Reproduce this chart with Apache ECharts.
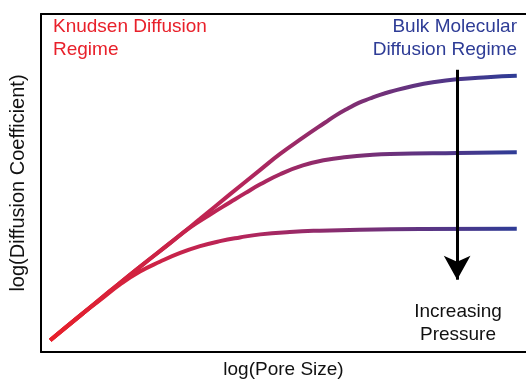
<!DOCTYPE html>
<html>
<head>
<meta charset="utf-8">
<script src="https://cdn.jsdelivr.net/npm/echarts@6/dist/echarts.min.js"></script>
<style>html,body{margin:0;padding:0;background:#fff}#c{width:526px;height:384px}</style>
</head>
<body>
<div id="c"></div>
<script>
// log(Pore Size) vs log(Diffusion Coefficient), arbitrary units 0-100
const lowPressure = [[1.9,3.5],[8.0,10.7],[14.2,18.0],[20.4,25.2],[26.6,32.2],[32.8,39.4],[39.0,46.7],[45.2,53.9],[49.3,58.6],[54.0,63.4],[58.6,67.9],[60.8,70.0],[63.1,71.9],[65.5,73.7],[67.8,75.0],[69.9,76.1],[72.0,77.0],[76.7,78.7],[81.2,79.9],[85.8,80.7],[92.0,81.3],[98.1,81.7]];
const midPressure = [[1.9,3.5],[8.0,10.7],[14.2,18.0],[20.4,25.2],[26.6,32.2],[30.7,36.8],[34.8,40.6],[39.0,44.3],[42.1,47.0],[45.2,49.6],[49.3,52.6],[54.0,55.2],[58.6,56.8],[63.1,57.7],[67.8,58.3],[72.0,58.6],[85.8,58.9],[98.1,59.1]];
const highPressure = [[1.9,3.5],[8.0,10.7],[12.2,15.4],[16.3,20.0],[20.4,23.8],[24.5,26.7],[28.7,29.3],[32.8,31.3],[36.9,32.8],[41.0,33.9],[45.2,34.8],[51.3,35.5],[57.5,35.9],[65.8,36.2],[78.1,36.4],[98.1,36.5]];
const arrowLine = [[85.8,83.5],[85.8,21.4]];

const FONT = '"Liberation Sans", Arial, Helvetica, sans-serif';
const chart = echarts.init(document.getElementById('c'));
const grad = new echarts.graphic.LinearGradient(50, 0, 517, 0, [
  {offset: 0, color: '#e8202a'},
  {offset: 0.4, color: '#b7255a'},
  {offset: 0.7, color: '#743078'},
  {offset: 1, color: '#2e3c96'}
], true);
function curve(d){
  return {type:'line', data:d, smooth:0.5, showSymbol:false, symbol:'none',
    lineStyle:{width:4, color:grad}, silent:true, z:2};
}
const s3 = curve(highPressure);
s3.markLine = {silent:true, symbol:['none','arrow'], symbolSize:[20,24],
  lineStyle:{color:'#000', width:3, type:'solid'}, label:{show:false},
  data:[[{coord:arrowLine[0]},{coord:arrowLine[1]}]], z:5};
chart.setOption({
  animation:false,
  grid:{left:41, right:0, top:14, bottom:25},
  xAxis:[{type:'value', min:0, max:100, position:'bottom',
    name:'log(Pore Size)', nameLocation:'middle', nameGap:8,
    nameTextStyle:{fontFamily:FONT, fontSize:19, color:'#111', verticalAlign:'top'},
    axisLine:{show:true, lineStyle:{color:'#000', width:2}},
    axisTick:{show:false}, axisLabel:{show:false}, splitLine:{show:false}},
    {type:'value', min:0, max:100, position:'top',
    axisLine:{show:true, lineStyle:{color:'#000', width:2}},
    axisTick:{show:false}, axisLabel:{show:false}, splitLine:{show:false}}],
  yAxis:{type:'value', min:0, max:100,
    name:'log(Diffusion Coefficient)', nameLocation:'middle', nameGap:13,
    nameTextStyle:{fontFamily:FONT, fontSize:20, color:'#111'},
    axisLine:{show:true, lineStyle:{color:'#000', width:2}},
    axisTick:{show:false}, axisLabel:{show:false}, splitLine:{show:false}},
  graphic:[
    {type:'text', x:53, y:16, style:{text:'Knudsen Diffusion\nRegime', fill:'#e8202a', font:'19px '+FONT, lineHeight:22.5}},
    {type:'text', x:517, y:16, style:{text:'Bulk Molecular\nDiffusion Regime', fill:'#2e3c96', font:'19px '+FONT, lineHeight:22.5, align:'right'}},
    {type:'text', x:458, y:300, style:{text:'Increasing\nPressure', fill:'#111', font:'19px '+FONT, lineHeight:23, align:'center'}}
  ],
  series:[curve(lowPressure), curve(midPressure), s3]
});
</script>
</body>
</html>
